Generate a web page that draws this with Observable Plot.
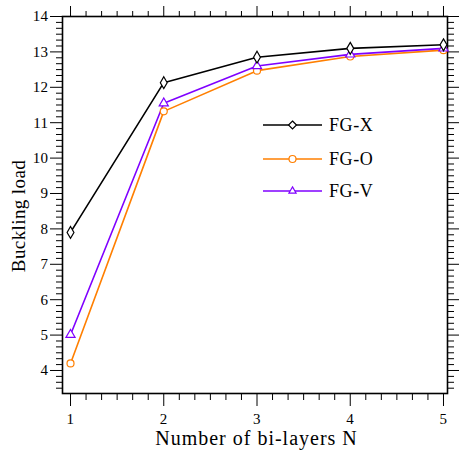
<!DOCTYPE html>
<html>
<head>
<meta charset="utf-8">
<script src="https://cdn.jsdelivr.net/npm/d3@7"></script>
<script src="https://cdn.jsdelivr.net/npm/@observablehq/plot@0.6"></script>
<style>
  body { margin: 0; background: #fff; }
  #chart { position: relative; width: 459px; height: 453px; }
</style>
</head>
<body>
<div id="chart"></div>
<script>
// Buckling load versus number of bi-layers for three FG patterns
const layers = [1, 2, 3, 4, 5];
const fgX = [7.9, 12.13, 12.85, 13.1, 13.2];
const fgO = [4.2, 11.32, 12.47, 12.87, 13.05];
const fgV = [5.01, 11.55, 12.6, 12.93, 13.1];

const seriesNames = ["FG-X", "FG-O", "FG-V"];
const seriesColors = ["#000000", "#ff7f00", "#7f00ff"];
const seriesSymbols = ["diamond", "circle", "triangle"];

const xTicks = [1, 2, 3, 4, 5];
const yTicks = [4, 5, 6, 7, 8, 9, 10, 11, 12, 13, 14];
const xTitle = "Number of bi-layers N";
const yTitle = "Buckling load";

const xDomain = [0.914, 5.043];
const yDomain = [3.35, 14];

// minor ticks every sixth of a unit
const isMinor = v => Math.abs(v - Math.round(v)) > 1e-6;
const xMinor = d3.range(0, 31).map(i => i / 6).filter(v => v >= xDomain[0] && v <= xDomain[1] && isMinor(v));
const yMinor = d3.range(0, 91).map(i => i / 6).filter(v => v >= yDomain[0] && v <= yDomain[1] && isMinor(v));

const table = [];
[fgX, fgO, fgV].forEach((vals, s) => {
  vals.forEach((v, i) => table.push({series: seriesNames[s], n: layers[i], load: v}));
});

const drawOrder = ["FG-O", "FG-V", "FG-X"];
const sub = name => table.filter(d => d.series === name);
const colorOf = name => seriesColors[seriesNames.indexOf(name)];
const symbolOf = name => seriesSymbols[seriesNames.indexOf(name)];
const radiusOf = name => ({"FG-X": 3.6, "FG-O": 3.5, "FG-V": 3.4})[name];

const blank = () => "";
const font = "Liberation Serif, Times New Roman, serif";

const margin = {left: 62, right: 12, top: 16, bottom: 60};
const W = 459, H = 453;

const plot = Plot.plot({
  width: W,
  height: H,
  marginLeft: margin.left,
  marginRight: margin.right,
  marginTop: margin.top,
  marginBottom: margin.bottom,
  style: {fontFamily: font, fontSize: "15px", background: "#fff", color: "#000"},
  x: {domain: xDomain},
  y: {domain: yDomain},
  marks: [
    // bottom axis
    Plot.axisX({anchor: "bottom", ticks: xTicks, tickSize: 13, tickPadding: 7, label: null, tickFormat: d3.format("d")}),
    Plot.axisX({anchor: "bottom", ticks: xMinor, tickSize: 7, tickFormat: blank, label: null}),
    // top axis
    Plot.axisX({anchor: "top", ticks: xTicks, tickSize: 11, tickFormat: blank, label: null}),
    Plot.axisX({anchor: "top", ticks: xMinor, tickSize: 6, tickFormat: blank, label: null}),
    // left axis
    Plot.axisY({anchor: "left", ticks: yTicks, tickSize: 12, tickPadding: 2, label: null, tickFormat: d3.format("d")}),
    Plot.axisY({anchor: "left", ticks: yMinor, tickSize: 6, tickFormat: blank, label: null}),
    // right axis
    Plot.axisY({anchor: "right", ticks: yTicks, tickSize: 12, tickFormat: blank, label: null}),
    Plot.axisY({anchor: "right", ticks: yMinor, tickSize: 6, tickFormat: blank, label: null}),
    Plot.frame({stroke: "#000", strokeWidth: 1.6}),
    // series lines
    ...drawOrder.map(name => Plot.line(sub(name), {x: "n", y: "load", stroke: colorOf(name), strokeWidth: 1.6})),
    // hollow markers
    ...drawOrder.map(name => Plot.dot(sub(name), {x: "n", y: "load", stroke: colorOf(name), fill: "#fff", strokeWidth: 1.2, r: radiusOf(name), symbol: symbolOf(name)}))
  ]
});

document.getElementById("chart").appendChild(plot);
const svg = d3.select(plot);

// serif tick labels
svg.selectAll("text")
  .style("font-family", font).style("font-size", "15px").style("letter-spacing", "0.4px").style("fill", "#000");

// axis titles
const frameCx = margin.left + (W - margin.left - margin.right) / 2;
svg.append("text")
  .attr("x", frameCx + 2).attr("y", H - 8)
  .attr("text-anchor", "middle").attr("font-family", font).attr("font-size", 20)
  .attr("letter-spacing", "1px").attr("fill", "#000").text(xTitle);
svg.append("text")
  .attr("transform", `translate(25,216) rotate(-90)`)
  .attr("text-anchor", "middle").attr("font-family", font).attr("font-size", 19)
  .attr("letter-spacing", "0.4px").attr("fill", "#000").text(yTitle);

// legend inside the plotting area
const legend = svg.append("g").attr("class", "legend").attr("text-anchor", "start");
const symbolMap = {diamond: d3.symbolDiamond2, circle: d3.symbolCircle, triangle: d3.symbolTriangle2};
const rowY = [125, 159, 191];
seriesNames.forEach((name, i) => {
  const g = legend.append("g").attr("transform", `translate(0,${rowY[i]})`);
  g.append("line").attr("x1", 263).attr("x2", 322).attr("y1", 0).attr("y2", 0)
    .attr("stroke", seriesColors[i]).attr("stroke-width", 1.6);
  const r = radiusOf(name);
  g.append("path").attr("transform", "translate(292.5,0)")
    .attr("d", d3.symbol(symbolMap[seriesSymbols[i]], Math.PI * r * r)())
    .attr("fill", "#fff").attr("stroke", seriesColors[i]).attr("stroke-width", 1.2);
  g.append("text").attr("x", 329).attr("y", 6).attr("font-size", 18)
    .attr("letter-spacing", "0.6px")
    .attr("font-family", font).attr("fill", "#000").text(name);
});
</script>
</body>
</html>
